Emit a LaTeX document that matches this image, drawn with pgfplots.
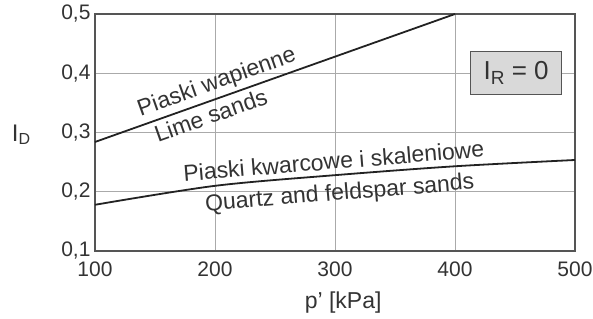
\documentclass[border=0pt]{standalone}
\usepackage{fontspec}
\setmainfont{Liberation Sans}
\usepackage{pgfplots}
\pgfplotsset{compat=1.18}
\definecolor{txt}{HTML}{333333}
\definecolor{frame}{HTML}{555555}
\definecolor{gridc}{HTML}{AAAAAA}
\definecolor{boxfill}{HTML}{D9D9D9}
\definecolor{curve}{HTML}{222222}
\begin{document}
\begin{tikzpicture}
\begin{axis}[
  scale only axis,
  width=480pt, height=237pt,
  xmin=100, xmax=500, ymin=0.1, ymax=0.5,
  xtick={100,200,300,400,500},
  ytick={0.1,0.2,0.3,0.4,0.5},
  grid=major,
  major grid style={gridc, line width=0.8pt},
  axis line style={frame, line width=1.4pt},
  tick style={draw=none},
  /pgf/number format/assume math mode=true,
  /pgf/number format/use comma,
  /pgf/number format/fixed,
  /pgf/number format/fixed zerofill,
  /pgf/number format/precision=1,
  xticklabel style={font=\fontsize{21}{21}\selectfont, text=txt, yshift=-7pt},
  yticklabel style={font=\fontsize{21}{21}\selectfont, text=txt, xshift=-1pt},
  xticklabel={\pgfmathprintnumber[fixed,precision=0]{\tick}},
  xlabel={p’ [kPa]},
  xlabel style={font=\fontsize{23}{23}\selectfont, text=txt, at={(axis description cs:0.517,-0.219)}, anchor=center},
  ylabel={I{\fontsize{16}{16}\selectfont\raisebox{-3pt}{D}}},
  ylabel style={font=\fontsize{24}{24}\selectfont, text=txt, rotate=-90, at={(axis description cs:-0.154,0.49)}, anchor=center},
  clip=false,
]
\addplot[curve, line width=1.8pt] coordinates {(100,0.284) (400,0.5)};
\addplot[curve, line width=1.8pt, smooth] coordinates {(100,0.178) (200,0.210) (300,0.228) (400,0.243) (500,0.2536)};
\node[font=\fontsize{23}{23}\selectfont, text=txt, rotate=19.6, inner sep=0pt] at (axis cs:201.7,0.384) {Piaski wapienne};
\node[font=\fontsize{23}{23}\selectfont, text=txt, rotate=19.6, inner sep=0pt] at (axis cs:196.5,0.329) {Lime sands};
\node[font=\fontsize{23}{23}\selectfont, text=txt, rotate=4.7, inner sep=0pt] at (axis cs:299,0.252) {Piaski kwarcowe i skaleniowe};
\node[font=\fontsize{23}{23}\selectfont, text=txt, rotate=4.7, inner sep=0pt] at (axis cs:304,0.196) {Quartz and feldspar sands};
\node[font=\fontsize{26}{26}\selectfont, text=txt, fill=boxfill, draw=frame, line width=0.8pt, minimum width=91pt, minimum height=43pt, inner sep=0pt] at (axis cs:451,0.4) {I\raisebox{-5pt}{\fontsize{19}{19}\selectfont R} = 0};
\end{axis}
\pgfresetboundingbox
\path[use as bounding box] ([shift={(-95pt,-67pt)}]current axis.south west) rectangle ([shift={(18pt,14pt)}]current axis.north east);
\end{tikzpicture}
\end{document}
